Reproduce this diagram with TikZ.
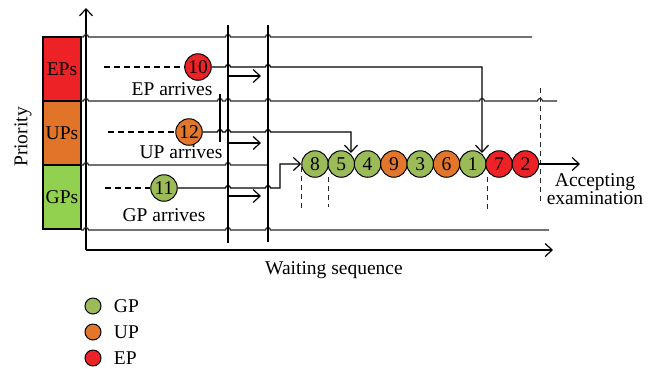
\documentclass[tikz,border=0pt]{standalone}
\usepackage{fontspec}
\setmainfont{Liberation Serif}
\usetikzlibrary{arrows.meta}
\definecolor{epred}{RGB}{237,34,38}
\definecolor{uporange}{RGB}{226,118,42}
\definecolor{gpgreen}{RGB}{155,187,89}
\definecolor{boxgreen}{RGB}{146,208,80}
\definecolor{boxorange}{RGB}{226,116,42}
\newcommand{\hp}[2]{-- (#1-2.5,#2) arc[start angle=180,end angle=360,radius=2.5]}
\begin{document}
\begin{tikzpicture}[x=1pt,y=-1pt,
  >={Straight Barb[length=7pt,width=13pt]},
  line width=1.2pt,
  every node/.style={font=\fontsize{19.5}{19.5}\selectfont},
  pc/.style={circle,draw,line width=1pt,minimum size=26.5pt,inner sep=0pt},
  gp/.style={pc,fill=gpgreen},
  up/.style={pc,fill=uporange},
  ep/.style={pc,fill=epred},
  legc/.style={pc,minimum size=16pt},
  dashline/.style={dash pattern=on 6pt off 4pt,line width=1.4pt},
  vdash/.style={dash pattern=on 5pt off 4pt,line width=1pt,draw=black!85},
  gridline/.style={line width=1.2pt,draw=black!85},
  pbox/.style={draw,line width=1.2pt,minimum width=38pt,minimum height=64pt,inner sep=0pt}]
\useasboundingbox (0,0) rectangle (660,368);

% priority boxes
\node[pbox,fill=epred] (epbox) at (62,69) {EPs};
\node[pbox,fill=boxorange] (upbox) at (62,133) {UPs};
\node[pbox,fill=boxgreen] (gpbox) at (62,197) {GPs};
\node[rotate=90] (prio) at (23,137) {Priority};

% axes
\coordinate (origin) at (86,250);
\coordinate (ytop) at (86,8);
\coordinate (xend) at (553,250);
\draw[->] (origin) -- (ytop);
\draw[->] (origin) -- (xend);
\node (waiting) at (334,270) {Waiting sequence};

% grid lines
\draw[gridline] (81,37) \hp{86}{37} \hp{228}{37} \hp{268}{37} -- (532,37);
\draw[gridline] (81,101) \hp{86}{101} \hp{220}{101} \hp{228}{101} \hp{268}{101} \hp{482}{101} \hp{540}{101} -- (557,101);
\draw[gridline] (81,165) \hp{86}{165} \hp{228}{165} -- (268,165);
\draw[gridline] (81,230) \hp{86}{230} \hp{228}{230} \hp{268}{230} -- (549,230);
\draw (228,25) -- (228,243);
\draw (268,25) -- (268,242);
\draw (220,94) -- (220,142);

% arriving patients
\node[ep] (c10) at (198,67) {10};
\node[up] (c12) at (189,132) {12};
\node[gp] (c11) at (164,188) {11};
\coordinate (eps) at (104,67);
\coordinate (ups) at (108,132);
\coordinate (gps) at (105,188);
\draw[dashline] (eps) -- (c10.west);
\draw[dashline] (ups) -- (c12.west);
\draw[dashline] (gps) -- (c11.west);
\node (eptext) at (172,89) {EP arrives};
\node (uptext) at (181,152.5) {UP arrives};
\node (gptext) at (164,215.5) {GP arrives};

% small arrows
\coordinate (a1s) at (228,76);  \coordinate (a1e) at (261,76);
\coordinate (a2s) at (228,143); \coordinate (a2e) at (261,143);
\coordinate (a3s) at (228,196); \coordinate (a3e) at (261,196);
\draw[->] (a1s) -- (a1e);
\draw[->] (a2s) -- (a2e);
\draw[->] (a3s) -- (a3e);

% queue
\node[gp] (c8) at (315,164) {8};
\node[gp] (c5) at (341.3,164) {5};
\node[gp] (c4) at (367.6,164) {4};
\node[up] (c9) at (393.9,164) {9};
\node[gp] (c3) at (420.2,164) {3};
\node[up] (c6) at (446.5,164) {6};
\node[gp] (c1) at (472.8,164) {1};
\node[ep] (c7) at (499.1,164) {7};
\node[ep] (c2) at (525.4,164) {2};

% lanes into queue
\coordinate (epin) at (482,153);
\coordinate (upin) at (351,153);
\draw[->] (c10.east) \hp{228}{67} \hp{268}{67} -- (482,67) -- (epin);
\draw[->] (c12.east) \hp{220}{132} \hp{228}{132} \hp{268}{132} -- (351,132) -- (upin);
\draw[->] (c11.east) \hp{228}{188} \hp{268}{188} -- (280,188) -- (280,164) -- (c8.west);

% dashed markers
\draw[vdash] (301,167) -- (301,210);
\draw[vdash] (328,177) -- (328,207);
\draw[vdash] (487,177) -- (487,210);
\draw[vdash] (540,88) -- (540,203);

% output
\coordinate (outend) at (580,164);
\draw[->] (c2.east) -- (outend);
\node[align=center,font=\fontsize{19.5}{16.5}\selectfont] (acc) at (595,189) {Accepting\\examination};

% legend
\node[legc,fill=gpgreen] (lg1) at (93,306) {};
\node[legc,fill=uporange] (lg2) at (93,332) {};
\node[legc,fill=epred] (lg3) at (93,358) {};
\node[anchor=west] (lt1) at (110,306) {GP};
\node[anchor=west] (lt2) at (110,332) {UP};
\node[anchor=west] (lt3) at (110,358) {EP};
\end{tikzpicture}
\end{document}
